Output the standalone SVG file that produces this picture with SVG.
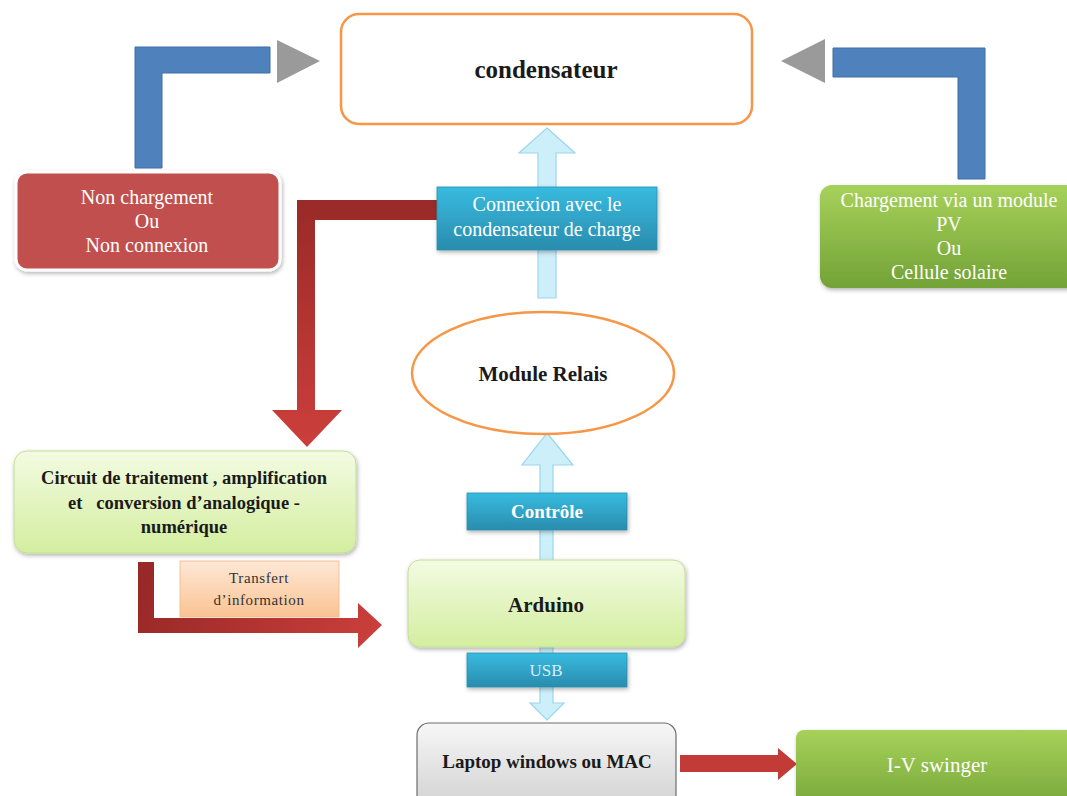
<svg xmlns="http://www.w3.org/2000/svg" width="1067" height="796" viewBox="0 0 1067 796">
<style>
text{font-family:"Liberation Serif","Times New Roman",serif;text-anchor:middle}
.w{fill:#ffffff}
.d{fill:#1a1a1a;font-weight:bold}
.elbow{fill:#4F81BD;stroke:#3f6fa6;stroke-width:1}
.tri{fill:#9a9a9a}
.lb{fill:#cdeffa;stroke:#9ad7ec;stroke-width:1.2}
.lab{fill:url(#gBlue);stroke:#2a8fb0;stroke-width:0.8}
</style>
<defs>
<linearGradient id="gBlue" x1="0" y1="0" x2="0" y2="1"><stop offset="0" stop-color="#37bbe0"/><stop offset="1" stop-color="#2a8cad"/></linearGradient>
<linearGradient id="gGreen" x1="0" y1="0" x2="0" y2="1"><stop offset="0" stop-color="#a6d15a"/><stop offset="1" stop-color="#73a236"/></linearGradient>
<linearGradient id="gLight" x1="0" y1="0" x2="0" y2="1"><stop offset="0" stop-color="#f3fbe2"/><stop offset="1" stop-color="#d3ee9f"/></linearGradient>
<linearGradient id="gPeach" x1="0" y1="0" x2="0" y2="1"><stop offset="0" stop-color="#fde8d6"/><stop offset="1" stop-color="#fbc393"/></linearGradient>
<linearGradient id="gGray" x1="0" y1="0" x2="0" y2="1"><stop offset="0" stop-color="#f7f7f7"/><stop offset="1" stop-color="#cfcfcf"/></linearGradient>
<linearGradient id="gRed1" gradientUnits="userSpaceOnUse" x1="0" y1="200" x2="0" y2="447"><stop offset="0" stop-color="#992a27"/><stop offset="1" stop-color="#cc3f3c"/></linearGradient>
<linearGradient id="gRed2" gradientUnits="userSpaceOnUse" x1="138" y1="562" x2="382" y2="640"><stop offset="0" stop-color="#962826"/><stop offset="1" stop-color="#cc3f3c"/></linearGradient>
<filter id="sh" x="-10%" y="-10%" width="120%" height="130%"><feDropShadow dx="1" dy="2" stdDeviation="2" flood-color="#000" flood-opacity="0.3"/></filter>
</defs>

<g id="connectors">
  <!-- blue elbows -->
  <path class="elbow" d="M135,47 H270 V73 H162 V168 H135 Z"/>
  <polygon class="tri" points="277,40 320,61 277,83"/>
  <path class="elbow" d="M833,48 H985 V179 H958 V77 H833 Z"/>
  <polygon class="tri" points="825,39 781,61 825,83"/>
  <!-- light blue arrows -->
  <polygon class="lb" points="547,128 575,153 556,153 556,298 538,298 538,153 519,153"/>
  <polygon class="lb" points="547,433 573,465 553,465 553,562 540,562 540,465 522,465"/>
  <polygon class="lb" points="540,647 553,647 553,703 564,703 547,720 530,703 540,703"/>
  <!-- red elbows -->
  <path fill="url(#gRed1)" d="M437,200 V220 H315 V410 H342 L307,447 L272,410 H297 V200 Z"/>
  <path fill="url(#gRed2)" d="M138,562 H154 V618 H358 V603 L382,625 L358,648 V633 H138 Z"/>
  <path fill="#c33b37" d="M680,755 H778 V748 L797,764 L778,780 V772 H680 Z"/>
</g>

<g id="condensateur">
  <rect x="341" y="14" width="411" height="110" rx="18" fill="#ffffff" stroke="#F79646" stroke-width="2.5"/>
  <text x="546" y="78" class="d" font-size="25">condensateur</text>
</g>

<g id="non-chargement">
  <rect x="16" y="172" width="264" height="98" rx="11" fill="#C0504D" stroke="#ffffff" stroke-width="3" filter="url(#sh)"/>
  <text class="w" font-size="20"><tspan x="147" y="204">Non chargement</tspan><tspan x="147" y="228">Ou</tspan><tspan x="147" y="252">Non connexion</tspan></text>
</g>

<g id="chargement-pv">
  <rect x="820" y="185" width="260" height="103" rx="12" fill="url(#gGreen)" filter="url(#sh)"/>
  <text class="w" font-size="20"><tspan x="949" y="207">Chargement via un module</tspan><tspan x="949" y="231">PV</tspan><tspan x="949" y="255">Ou</tspan><tspan x="949" y="279">Cellule solaire</tspan></text>
</g>

<g id="label-connexion">
  <rect x="437" y="187" width="220" height="63" class="lab" filter="url(#sh)"/>
  <text class="w" font-size="20"><tspan x="547" y="211">Connexion avec le</tspan><tspan x="547" y="236">condensateur de charge</tspan></text>
</g>

<g id="module-relais">
  <ellipse cx="543" cy="373" rx="131" ry="61" fill="#ffffff" stroke="#F79646" stroke-width="2.5"/>
  <text x="543" y="381" class="d" font-size="21">Module Relais</text>
</g>

<g id="label-controle">
  <rect x="467" y="493" width="160" height="37" class="lab" filter="url(#sh)"/>
  <text x="547" y="518" class="w" font-size="19" font-weight="bold">Contrôle</text>
</g>

<g id="circuit">
  <rect x="14" y="451" width="342" height="102" rx="13" fill="url(#gLight)" stroke="#c4dc98" stroke-width="1" filter="url(#sh)"/>
  <text class="d" font-size="18.5" xml:space="preserve"><tspan x="184" y="484">Circuit de traitement , amplification</tspan><tspan x="184" y="509">et   conversion d’analogique -</tspan><tspan x="184" y="533">numérique</tspan></text>
</g>

<g id="transfert">
  <rect x="180" y="561" width="159" height="56" fill="url(#gPeach)" stroke="#f5b488" stroke-width="0.8"/>
  <text fill="#333333" font-size="15" letter-spacing="0.6"><tspan x="259" y="583">Transfert</tspan><tspan x="259" y="605">d’information</tspan></text>
</g>

<g id="arduino">
  <rect x="408" y="560" width="277" height="87" rx="12" fill="url(#gLight)" stroke="#c4dc98" stroke-width="1" filter="url(#sh)"/>
  <text x="546" y="612" class="d" font-size="21">Arduino</text>
</g>

<g id="label-usb">
  <rect x="467" y="653" width="160" height="34" class="lab" filter="url(#sh)"/>
  <text x="546" y="676" fill="#d4eef7" font-size="17">USB</text>
</g>

<g id="laptop">
  <rect x="417" y="723" width="259" height="90" rx="12" fill="url(#gGray)" stroke="#6d6d6d" stroke-width="1.2"/>
  <text x="547" y="768" class="d" font-size="19">Laptop windows ou MAC</text>
</g>

<g id="iv-swinger">
  <rect x="796" y="730" width="290" height="85" rx="8" fill="url(#gGreen)" filter="url(#sh)"/>
  <text x="937" y="772" class="w" font-size="21">I-V swinger</text>
</g>
</svg>
